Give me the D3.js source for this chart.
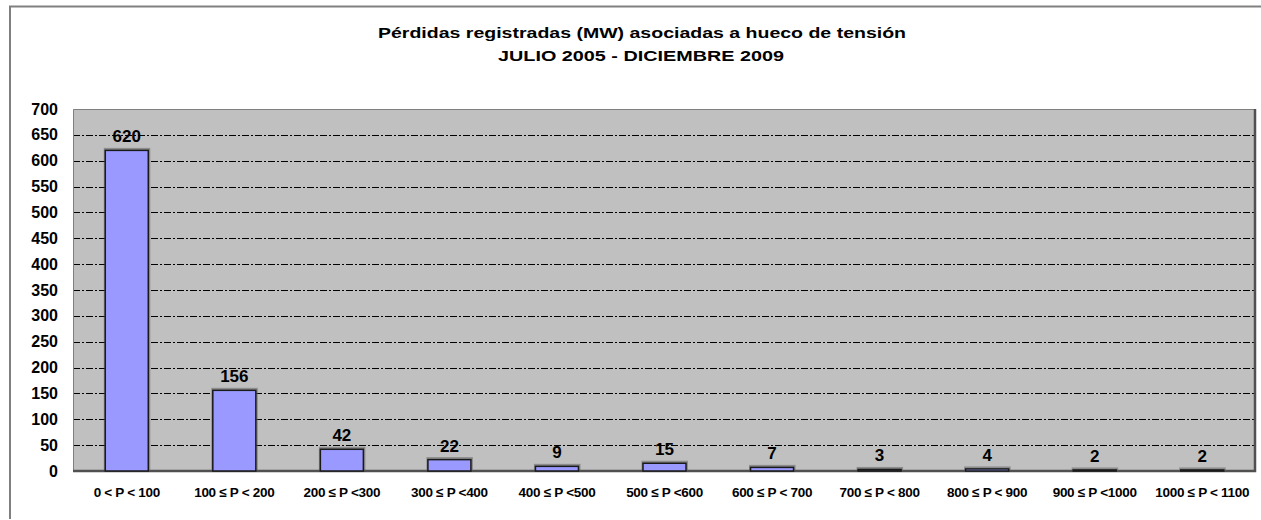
<!DOCTYPE html>
<html>
<head>
<meta charset="utf-8">
<script src="https://cdn.jsdelivr.net/npm/d3@7"></script>
<style>
  html, body { margin: 0; padding: 0; background: #fff; }
  svg { display: block; font-family: "Liberation Sans", Arial, sans-serif; }
</style>
</head>
<body>
<svg id="chart" width="1261" height="520"></svg>
<script>
// Distribution of registered losses (MW) by power range
const titleLines = [
  "Pérdidas registradas (MW) asociadas a hueco de tensión",
  "JULIO 2005 - DICIEMBRE 2009"
];
const categories = [
  "0 < P < 100", "100 ≤ P < 200", "200 ≤ P <300", "300 ≤ P <400",
  "400 ≤ P <500", "500 ≤ P <600", "600 ≤ P < 700", "700 ≤ P < 800",
  "800 ≤ P < 900", "900 ≤ P <1000", "1000 ≤ P < 1100"
];
const values = [620, 156, 42, 22, 9, 15, 7, 3, 4, 2, 2];
const yTicks = [0, 50, 100, 150, 200, 250, 300, 350, 400, 450, 500, 550, 600, 650, 700];

const svg = d3.select("#chart");
const plot = { left: 73, top: 109, right: 1256, bottom: 471 };

// outer frame of the chart object
svg.append("path")
  .attr("d", "M10,519 L10,6.5 L1261,6.5")
  .attr("fill", "none").attr("stroke", "#808080").attr("stroke-width", 2);

// title
const title = svg.append("text")
  .attr("text-anchor", "middle")
  .attr("font-weight", "bold")
  .attr("font-size", 15)
  .attr("fill", "#000");
title.append("tspan").attr("x", 642).attr("y", 38).text(titleLines[0])
  .attr("textLength", 528).attr("lengthAdjust", "spacingAndGlyphs");
title.append("tspan").attr("x", 641).attr("y", 61).text(titleLines[1])
  .attr("textLength", 286).attr("lengthAdjust", "spacingAndGlyphs");

const x = d3.scaleBand()
  .domain(categories)
  .range([plot.left, plot.right])
  .paddingInner(0.6).paddingOuter(0.3);

const y = d3.scaleLinear().domain([0, 700]).range([plot.bottom, plot.top]);

// plot background
svg.append("rect")
  .attr("x", plot.left).attr("y", plot.top)
  .attr("width", plot.right - plot.left).attr("height", plot.bottom - plot.top)
  .attr("fill", "#c0c0c0");

// gridlines
svg.append("g").selectAll("line")
  .data(yTicks.filter(v => v > 0 && v < 700))
  .join("line")
  .attr("x1", plot.left).attr("x2", plot.right)
  .attr("y1", d => Math.round(y(d)) + 0.5).attr("y2", d => Math.round(y(d)) + 0.5)
  .attr("stroke", "#000").attr("stroke-width", 1.2)
  .attr("stroke-dasharray", "7,2,2,2");

// plot frame: light top/left, dark right/bottom
svg.append("path")
  .attr("d", `M${plot.left + 0.5},${plot.bottom} L${plot.left + 0.5},${plot.top + 0.5} L${plot.right},${plot.top + 0.5}`)
  .attr("fill", "none").attr("stroke", "#808080").attr("stroke-width", 1);
svg.append("path")
  .attr("d", `M${plot.right - 1},${plot.top} L${plot.right - 1},${plot.bottom} L${plot.left},${plot.bottom}`)
  .attr("fill", "none").attr("stroke", "#505050").attr("stroke-width", 2.5);

// y axis labels
const yAxis = d3.axisLeft(y).tickValues(yTicks).tickSize(0).tickPadding(15);
const gy = svg.append("g").attr("transform", `translate(${plot.left},0)`).call(yAxis);
gy.select(".domain").remove();
gy.selectAll("text")
  .attr("font-family", "\"Liberation Sans\", Arial, sans-serif")
  .attr("font-size", 16).attr("font-weight", "bold").attr("fill", "#000");

// x axis labels
const xAxis = d3.axisBottom(x).tickSize(0).tickPadding(16);
const gx = svg.append("g").attr("transform", `translate(0,${plot.bottom})`).call(xAxis);
gx.select(".domain").remove();
gx.selectAll("text")
  .attr("font-family", "\"Liberation Sans\", Arial, sans-serif")
  .attr("font-size", 13.5).attr("font-weight", "bold").attr("fill", "#000")
  .attr("letter-spacing", -0.3);

// bars with soft shadow
const bars = svg.append("g");
bars.selectAll("rect.shadow")
  .data(values)
  .join("rect").attr("class", "shadow")
  .attr("x", (d, i) => x(categories[i]) - 1.5)
  .attr("y", d => y(d) - 2.5)
  .attr("width", x.bandwidth() + 3.5)
  .attr("height", d => plot.bottom - y(d) + 2.5)
  .attr("fill", "#606060").attr("opacity", 0.55);
bars.selectAll("rect.bar")
  .data(values)
  .join("rect").attr("class", "bar")
  .attr("x", (d, i) => x(categories[i]))
  .attr("y", d => y(d))
  .attr("width", x.bandwidth())
  .attr("height", d => plot.bottom - y(d))
  .attr("fill", "#9999ff").attr("stroke", "#1a1a1a").attr("stroke-width", 1.5);

// value labels
svg.append("g").selectAll("text")
  .data(values)
  .join("text")
  .attr("x", (d, i) => x(categories[i]) + x.bandwidth() / 2)
  .attr("y", d => y(d) - 8)
  .attr("text-anchor", "middle")
  .attr("font-size", 17).attr("font-weight", "bold").attr("fill", "#000")
  .text(d => d);
</script>
</body>
</html>
